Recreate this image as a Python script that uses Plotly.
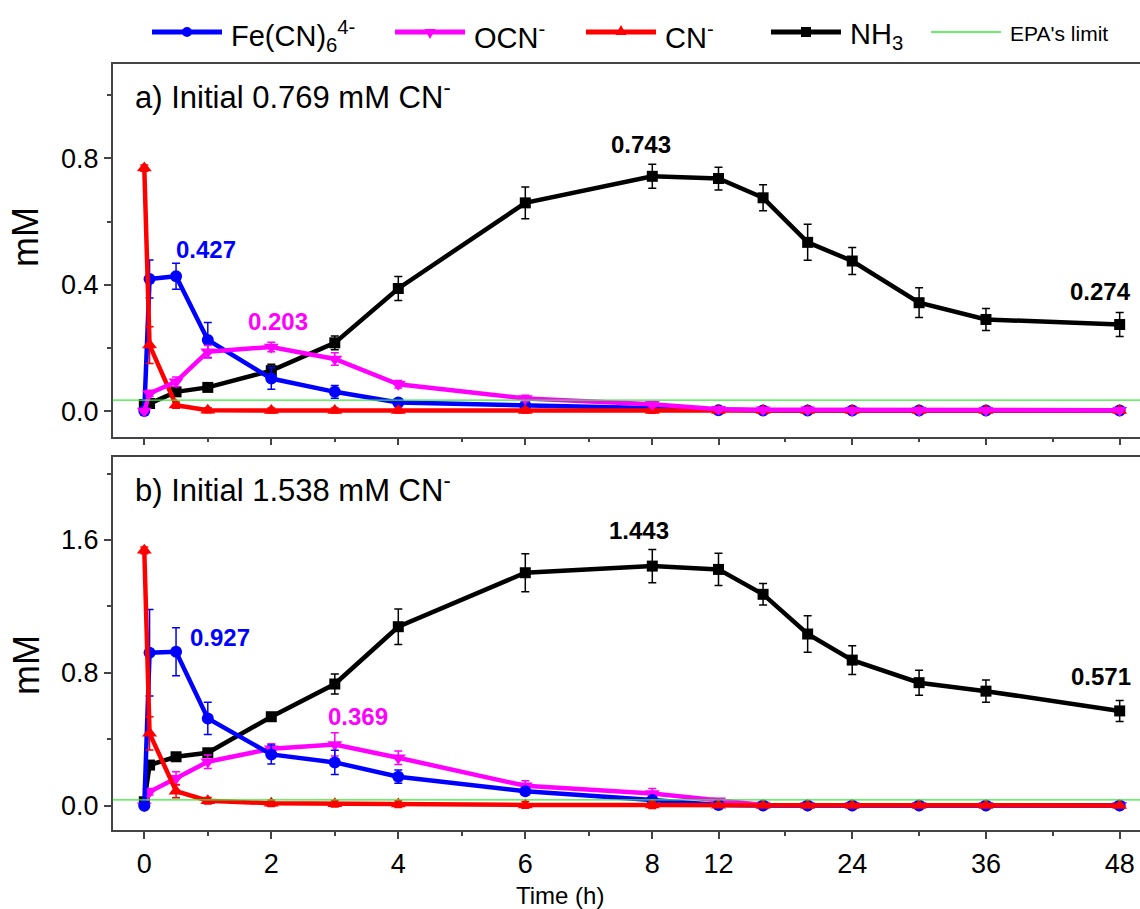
import plotly.graph_objects as go

FONT = "Liberation Sans, Arial, sans-serif"

# ---------------- data ----------------
TIME_H = [0, 0.083, 0.5, 1, 2, 3, 4, 6, 8, 12, 16, 20, 24, 30, 36, 48]

FE_A = [0.0, 0.418, 0.427, 0.225, 0.103, 0.061, 0.027, 0.018, 0.010, 0.003, 0.002, 0.002, 0.002, 0.002, 0.002, 0.002]
FE_A_ERR = [0.005, 0.06, 0.041, 0.055, 0.034, 0.02, 0.01, 0.008, 0.005, 0.002, 0, 0, 0, 0, 0, 0]
OCN_A = [0.0, 0.056, 0.093, 0.188, 0.203, 0.165, 0.085, 0.040, 0.022, 0.006, 0.004, 0.004, 0.003, 0.003, 0.003, 0.003]
OCN_A_ERR = [0.005, 0.01, 0.015, 0.02, 0.015, 0.02, 0.012, 0.01, 0.008, 0.004, 0.003, 0.003, 0.003, 0.003, 0.003, 0.003]
CN_A = [0.769, 0.209, 0.019, 0.003, 0.002, 0.002, 0.002, 0.002, 0.002, 0.002, 0.002, 0.002, 0.002, 0.002, 0.002, 0.002]
CN_A_ERR = [0.01, 0.058, 0.01, 0.008, 0.008, 0.008, 0.008, 0.008, 0.008, 0.004, 0.004, 0.004, 0.004, 0.004, 0.004, 0.004]
NH3_A = [0.021, 0.024, 0.061, 0.075, 0.128, 0.216, 0.388, 0.659, 0.743, 0.736, 0.675, 0.534, 0.475, 0.343, 0.290, 0.274]
NH3_A_ERR = [0.005, 0.005, 0.01, 0.01, 0.02, 0.022, 0.038, 0.05, 0.038, 0.036, 0.041, 0.057, 0.043, 0.047, 0.035, 0.038]

FE_B = [0.0, 0.921, 0.927, 0.526, 0.309, 0.261, 0.175, 0.088, 0.034, 0.005, 0.002, 0.002, 0.002, 0.002, 0.002, 0.002]
FE_B_ERR = [0.01, 0.26, 0.144, 0.097, 0.057, 0.073, 0.04, 0.02, 0.01, 0.005, 0, 0, 0, 0, 0, 0]
OCN_B = [0.0, 0.084, 0.165, 0.265, 0.343, 0.369, 0.289, 0.12, 0.074, 0.03, 0.005, 0.003, 0.003, 0.003, 0.003, 0.003]
OCN_B_ERR = [0.01, 0.02, 0.04, 0.04, 0.03, 0.07, 0.04, 0.03, 0.03, 0.01, 0.005, 0.003, 0.003, 0.003, 0.003, 0.003]
CN_B = [1.538, 0.436, 0.088, 0.03, 0.015, 0.012, 0.010, 0.005, 0.004, 0.003, 0.002, 0.002, 0.002, 0.002, 0.002, 0.002]
CN_B_ERR = [0.02, 0.1, 0.04, 0.02, 0.02, 0.02, 0.02, 0.02, 0.02, 0.005, 0.004, 0.004, 0.004, 0.004, 0.004, 0.004]
NH3_B = [0.024, 0.245, 0.295, 0.319, 0.536, 0.733, 1.078, 1.403, 1.443, 1.423, 1.273, 1.034, 0.877, 0.741, 0.690, 0.571]
NH3_B_ERR = [0.01, 0.02, 0.02, 0.02, 0.02, 0.06, 0.107, 0.115, 0.1, 0.097, 0.065, 0.11, 0.086, 0.075, 0.067, 0.063]

EPA_LIMIT = 0.035

MAJOR_TICKS = [0, 2, 4, 6, 8, 12, 24, 36, 48]
MINOR_TICKS = [1, 3, 5, 7, 18, 30, 42]

PANEL_TITLES = ["a) Initial 0.769 mM CN<sup>-</sup>", "b) Initial 1.538 mM CN<sup>-</sup>"]

LEGEND_KEYS = ["fe", "ocn", "cn", "nh3", "epa"]

# labels: (panel, series key, time index)
LABELS = [
    ("a", "fe", 2), ("a", "ocn", 4), ("a", "nh3", 8), ("a", "nh3", 15),
    ("b", "fe", 2), ("b", "ocn", 5), ("b", "nh3", 8), ("b", "nh3", 15),
]

# ---------------- broken time axis ----------------
SEGMENTS = [(0, 8, 63.5), (8, 12, 16.55), (12, 48, 11.144)]


def xmap(t):
    u = 0.0
    for a, b, s in SEGMENTS:
        if t <= b:
            return u + (t - a) * s
        u += (b - a) * s
    return u


X = [xmap(t) for t in TIME_H]

STYLE = {
    "fe": dict(name="Fe(CN)<sub>6</sub><sup>4-</sup>", color="#0000ff", symbol="circle", size=12),
    "ocn": dict(name="OCN<sup>-</sup>", color="#ff00ff", symbol="triangle-down", size=13),
    "cn": dict(name="CN<sup>-</sup>", color="#ff0000", symbol="triangle-up", size=13),
    "nh3": dict(name="NH<sub>3</sub>", color="#000000", symbol="square", size=11),
    "epa": dict(name="EPA's limit", color="#33ee33", symbol=None, size=0),
}

DATA = {
    "a": {"fe": (FE_A, FE_A_ERR), "ocn": (OCN_A, OCN_A_ERR), "cn": (CN_A, CN_A_ERR), "nh3": (NH3_A, NH3_A_ERR)},
    "b": {"fe": (FE_B, FE_B_ERR), "ocn": (OCN_B, OCN_B_ERR), "cn": (CN_B, CN_B_ERR), "nh3": (NH3_B, NH3_B_ERR)},
}
ORDER = {"a": ["nh3", "fe", "cn", "ocn"], "b": ["nh3", "ocn", "fe", "cn"]}
AXES = {"a": ("x", "y"), "b": ("x2", "y2")}

fig = go.Figure()
for panel in ["a", "b"]:
    xa, ya = AXES[panel]
    for key in ORDER[panel]:
        vals, errs = DATA[panel][key]
        st = STYLE[key]
        fig.add_trace(go.Scatter(
            x=X, y=vals, xaxis=xa, yaxis=ya,
            mode="lines+markers", name=st["name"], showlegend=False,
            line=dict(color=st["color"], width=4.5),
            marker=dict(color=st["color"], symbol=st["symbol"], size=st["size"], line=dict(width=0)),
            error_y=dict(type="data", array=errs, visible=True, color=st["color"], thickness=1.5, width=4),
            cliponaxis=False,
        ))

# EPA limit lines
for xa, ya in [AXES["a"], AXES["b"]]:
    fig.add_shape(type="line", xref=f"{xa} domain", yref=ya, x0=0, x1=1, y0=EPA_LIMIT, y1=EPA_LIMIT,
                  line=dict(color=STYLE["epa"]["color"], width=1.3), layer="above")

# value labels
SHIFTS = {
    ("a", "fe", 2): (30, 27), ("a", "ocn", 4): (7, 25), ("a", "nh3", 8): (-11, 32), ("a", "nh3", 15): (-19, 33),
    ("b", "fe", 2): (44, 14), ("b", "ocn", 5): (23, 28), ("b", "nh3", 8): (-13, 36), ("b", "nh3", 15): (-19, 34),
}
for panel, key, idx in LABELS:
    xa, ya = AXES[panel]
    vals, _ = DATA[panel][key]
    dx, dy = SHIFTS[(panel, key, idx)]
    fig.add_annotation(x=X[idx], y=vals[idx], xref=xa, yref=ya, text=f"<b>{vals[idx]:.3f}</b>",
                       showarrow=False, xshift=dx, yshift=dy, xanchor="center", yanchor="middle",
                       font=dict(family=FONT, size=24, color=STYLE[key]["color"]))

W, H = 1140, 909


def px(x):
    return x / W


def py(y):
    return 1 - y / H


# ---------------- manual legend (line samples 70 px long) ----------------
LEG_X = {"fe": 152, "ocn": 395, "cn": 586, "nh3": 771, "epa": 931}
LEG_Y = 32
for key in LEGEND_KEYS:
    st = STYLE[key]
    x0 = LEG_X[key]
    x1 = x0 + 70
    cx = (x0 + x1) / 2
    lw = 1.5 if key == "epa" else 5
    fig.add_shape(type="line", xref="paper", yref="paper", x0=px(x0), x1=px(x1), y0=py(LEG_Y), y1=py(LEG_Y),
                  line=dict(color=st["color"], width=lw))
    r = 5
    if key == "fe":
        fig.add_shape(type="circle", xref="paper", yref="paper", x0=px(cx - r), x1=px(cx + r),
                      y0=py(LEG_Y - r), y1=py(LEG_Y + r), fillcolor=st["color"], line=dict(width=0))
    elif key == "nh3":
        fig.add_shape(type="rect", xref="paper", yref="paper", x0=px(cx - r), x1=px(cx + r),
                      y0=py(LEG_Y - r), y1=py(LEG_Y + r), fillcolor=st["color"], line=dict(width=0))
    elif key in ("ocn", "cn"):
        s = 1 if key == "ocn" else -1
        path = (f"M {px(cx - 5.5)},{py(LEG_Y - s * 3)} L {px(cx + 5.5)},{py(LEG_Y - s * 3)} "
                f"L {px(cx)},{py(LEG_Y + s * 7)} Z")
        fig.add_shape(type="path", xref="paper", yref="paper", path=path, fillcolor=st["color"], line=dict(width=0))
    size = 21 if key == "epa" else 29
    fig.add_annotation(x=px(x1 + 7), y=py(LEG_Y + (2 if key == "epa" else 4)), xref="paper", yref="paper",
                       text=st["name"], showarrow=False, xanchor="left", yanchor="middle",
                       font=dict(family=FONT, size=size, color="black"))

# panel titles
for title, ycen in zip(PANEL_TITLES, [95, 488]):
    fig.add_annotation(x=px(133), y=py(ycen), xref="paper", yref="paper", text=title, showarrow=False,
                       xanchor="left", yanchor="middle", font=dict(family=FONT, size=31, color="black"))
# y titles
for ycen in [237, 665]:
    fig.add_annotation(x=px(26), y=py(ycen), xref="paper", yref="paper", text="mM", showarrow=False,
                       textangle=-90, xanchor="center", yanchor="middle", font=dict(family=FONT, size=36, color="black"))
fig.add_annotation(x=px(560), y=py(895), xref="paper", yref="paper", text="Time (h)", showarrow=False,
                   xanchor="center", yanchor="middle", font=dict(family=FONT, size=24, color="black"))

XRANGE = [112.7 - 144.3, 1140 - 144.3]
AX_COMMON = dict(showgrid=False, zeroline=False, showline=True, linecolor="#444", linewidth=1.5,
                 ticks="outside", ticklen=7, tickwidth=1.5, tickcolor="#444",
                 tickfont=dict(family=FONT, size=27, color="black"))
xa_common = dict(AX_COMMON, range=XRANGE, domain=[px(112.7), 1], mirror=True, ticklabelstandoff=2,
                 tickmode="array", tickvals=[xmap(t) for t in MAJOR_TICKS], ticktext=[str(t) for t in MAJOR_TICKS],
                 minor=dict(tickmode="array", tickvals=[xmap(t) for t in MINOR_TICKS], ticks="outside",
                            ticklen=4, tickwidth=1.5, tickcolor="#444"))
fig.update_layout(
    width=W, height=H,
    margin=dict(l=0, r=0, t=0, b=0),
    paper_bgcolor="white", plot_bgcolor="white",
    font=dict(family=FONT, color="black"),
    showlegend=False,
    xaxis=dict(xa_common, anchor="y", showticklabels=False),
    xaxis2=dict(xa_common, anchor="y2"),
    yaxis=dict(AX_COMMON, anchor="x", domain=[py(436.7), py(63.5)], range=[-0.081, 1.1],
               tickmode="array", tickvals=[0, 0.4, 0.8], ticktext=["0.0", "0.4", "0.8"],
               minor=dict(tickmode="array", tickvals=[0.2, 0.6, 1.0], ticks="outside", ticklen=4, tickwidth=1.5, tickcolor="#444")),
    yaxis2=dict(AX_COMMON, anchor="x2", domain=[py(830), py(457.3)], range=[-0.146, 2.098],
                tickmode="array", tickvals=[0, 0.8, 1.6], ticktext=["0.0", "0.8", "1.6"],
                minor=dict(tickmode="array", tickvals=[0.4, 1.2, 2.0], ticks="outside", ticklen=4, tickwidth=1.5, tickcolor="#444")),
)

fig.write_html("out.html")
